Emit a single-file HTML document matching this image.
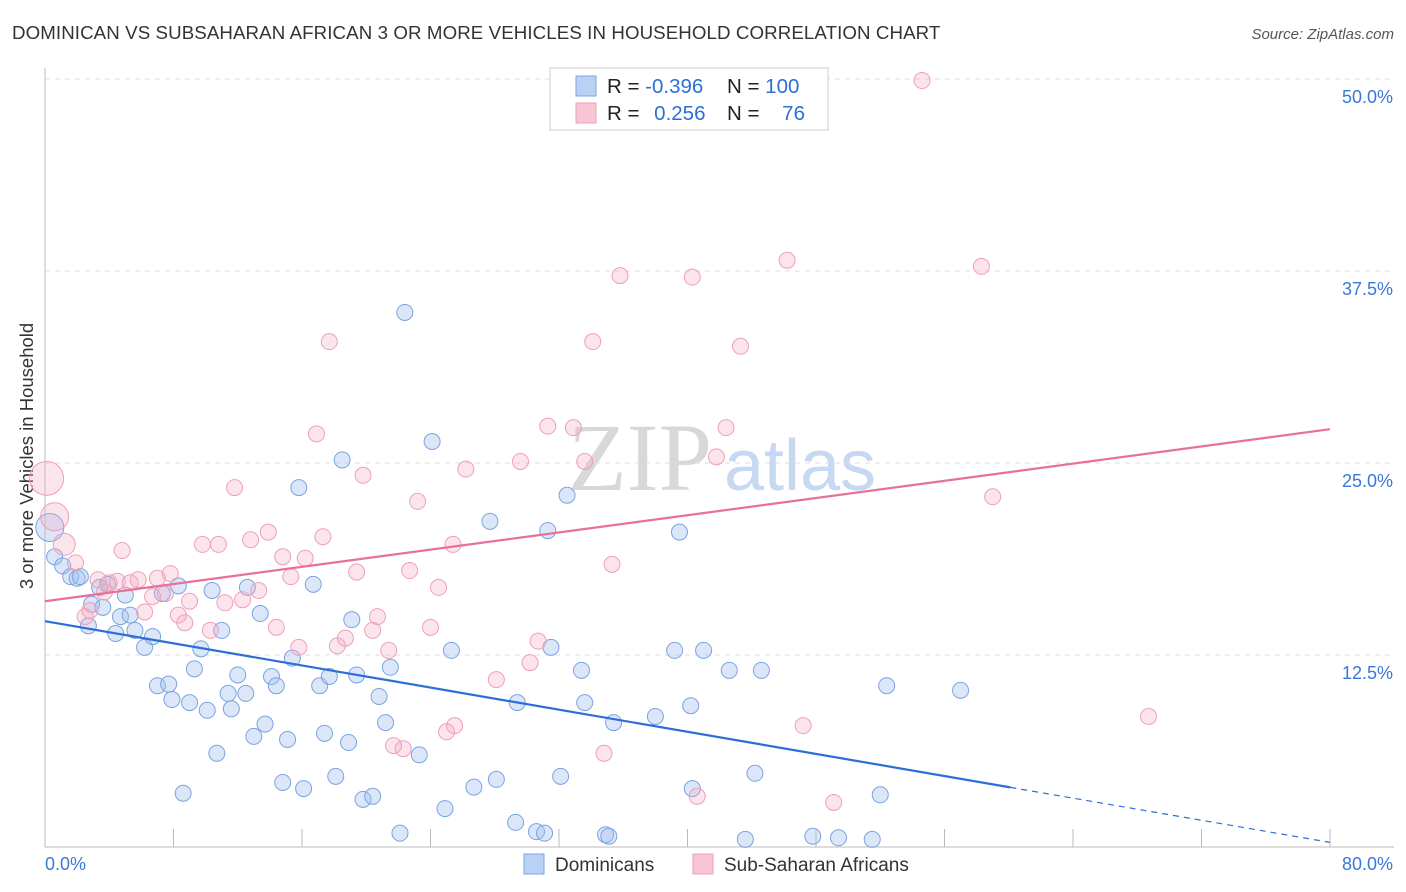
<!DOCTYPE html>
<html><head><meta charset="utf-8">
<style>
body{margin:0;background:#fff;font-family:"Liberation Sans",sans-serif;}
#wrap{position:relative;width:1406px;height:892px;overflow:hidden;}
</style></head>
<body><div id="wrap">
<svg id="chart" width="1406" height="892" xmlns="http://www.w3.org/2000/svg">
<text x="12" y="39" font-size="18.7" fill="#333" letter-spacing="0.1">DOMINICAN VS SUBSAHARAN AFRICAN 3 OR MORE VEHICLES IN HOUSEHOLD CORRELATION CHART</text>
<text x="1394" y="39" font-size="15" fill="#555" font-style="italic" text-anchor="end">Source: ZipAtlas.com</text>
<text transform="translate(33,456) rotate(-90)" font-size="18.5" fill="#333" text-anchor="middle">3 or more Vehicles in Household</text>
<text x="640" y="490" font-size="96" font-family="Liberation Serif,serif" fill="#d8d8d8" text-anchor="middle">ZIP</text>
<text x="800" y="490" font-size="72" fill="#c6d8f2" text-anchor="middle">atlas</text>
<g id="grid"></g><g id="axes"></g><g id="marks"></g><g id="lines"></g>
<g>
<rect x="550" y="68" width="278" height="62" fill="#fff" stroke="#ccc"/>
<rect x="576" y="76" width="20" height="20" fill="#b9d1f5" stroke="#7ba3e0"/>
<rect x="576" y="103" width="20" height="20" fill="#f8c5d5" stroke="#eea0b8"/>
<text x="607" y="93" font-size="20.5" fill="#222">R = <tspan fill="#2b6fd6">-0.396</tspan></text>
<text x="727" y="93" font-size="20.5" fill="#222">N = <tspan fill="#2b6fd6">100</tspan></text>
<text x="607" y="120" font-size="20.5" fill="#222">R = <tspan fill="#2b6fd6" dx="9">0.256</tspan></text>
<text x="727" y="120" font-size="20.5" fill="#222">N = <tspan fill="#2b6fd6" dx="17">76</tspan></text>
</g>
<g>
<rect x="524" y="854" width="20" height="20" fill="#b9d1f5" stroke="#7ba3e0"/>
<text x="555" y="871" font-size="19" fill="#333">Dominicans</text>
<rect x="693" y="854" width="20" height="20" fill="#f8c5d5" stroke="#eea0b8"/>
<text x="724" y="871" font-size="19" fill="#333">Sub-Saharan Africans</text>
</g>
</svg>
<script>
const yTicks=[12.5,25,37.5,50];
const yTickLabels=["12.5%","25.0%","37.5%","50.0%"];
const xTicks=[0,8,16,24,32,40,48,56,64,72,80];
const xEndLabels=["0.0%","80.0%"];
const blueX=[0.3,0.6,1.1,1.6,2.0,2.2,2.7,2.9,3.4,3.6,3.9,4.4,4.7,5.0,5.3,5.6,6.2,6.7,7.0,7.3,7.7,7.9,8.3,8.6,9.0,9.3,9.7,10.1,10.4,10.7,11.0,11.4,11.6,12.0,12.5,12.6,13.0,13.4,13.7,14.1,14.4,14.8,15.1,15.4,15.8,16.1,16.7,17.1,17.4,17.7,18.1,18.5,18.9,19.1,19.4,19.8,20.4,20.8,21.2,21.5,22.1,22.4,23.3,24.1,24.9,25.3,26.7,27.7,28.1,29.4,29.3,30.6,31.1,31.3,31.5,32.1,32.5,33.4,33.6,34.9,35.1,35.4,38.0,39.2,39.5,40.2,40.3,41.0,42.6,43.6,44.2,44.6,47.8,49.4,51.5,52.0,52.4,57.0];
const blueY=[20.8,18.9,18.3,17.6,17.5,17.6,14.4,15.8,16.9,15.6,17.1,13.9,15.0,16.4,15.1,14.1,13.0,13.7,10.5,16.5,10.6,9.6,17.0,3.5,9.4,11.6,12.9,8.9,16.7,6.1,14.1,10.0,9.0,11.2,10.0,16.9,7.2,15.2,8.0,11.1,10.5,4.2,7.0,12.3,23.4,3.8,17.1,10.5,7.4,11.1,4.6,25.2,6.8,14.8,11.2,3.1,3.3,9.8,8.1,11.7,0.9,34.8,6.0,26.4,2.5,12.8,3.9,21.2,4.4,9.4,1.6,1.0,0.9,20.6,13.0,4.6,22.9,11.5,9.4,0.8,0.7,8.1,8.5,12.8,20.5,9.2,3.8,12.8,11.5,0.5,4.8,11.5,0.7,0.6,0.5,3.4,10.5,10.2];
const pinkX=[0.1,0.6,1.2,1.9,2.5,2.8,3.3,3.7,4.0,4.5,4.8,5.3,5.8,6.2,6.7,7.0,7.5,7.8,8.3,8.7,9.0,9.8,10.3,10.8,11.2,11.8,12.3,12.8,13.3,13.9,14.4,14.8,15.3,15.8,16.2,16.9,17.3,17.7,18.2,18.7,19.4,19.8,20.4,20.7,21.4,21.7,22.3,22.7,23.2,24.0,24.5,25.0,25.4,25.5,26.2,28.1,29.6,30.2,30.7,31.3,32.9,33.6,34.1,34.8,35.3,35.8,40.3,40.6,41.8,42.4,43.3,46.2,47.2,49.1,54.6,58.3,59.0,68.7];
const pinkY=[24.0,21.5,19.7,18.5,15.0,15.4,17.4,16.6,17.2,17.3,19.3,17.2,17.4,15.3,16.3,17.5,16.5,17.8,15.1,14.6,16.0,19.7,14.1,19.7,15.9,23.4,16.1,20.0,16.7,20.5,14.3,18.9,17.6,13.0,18.8,26.9,20.2,32.9,13.1,13.6,17.9,24.2,14.1,15.0,12.8,6.6,6.4,18.0,22.5,14.3,16.9,7.5,19.7,7.9,24.6,10.9,25.1,12.0,13.4,27.4,27.3,25.1,32.9,6.1,18.4,37.2,37.1,3.3,25.4,27.3,32.6,38.2,7.9,2.9,49.9,37.8,22.8,8.5];
const blueBig=[14];
const pinkBig=[17,14,11];
const blueTrend=[14.7,0.3], blueSolidEnd=60.1;
const pinkTrend=[16.0,27.2];

const NS="http://www.w3.org/2000/svg";
const X=v=>45+v/80*1285, Y=v=>847-v/50*768;
function mk(t,a,p){const e=document.createElementNS(NS,t);for(const k in a)e.setAttribute(k,a[k]);document.getElementById(p).appendChild(e);return e;}
yTicks.forEach((t,i)=>{
 const g=mk('line',{x1:45,x2:1394,y1:Y(t),y2:Y(t),stroke:'#ddd','stroke-dasharray':'5,5'},'grid');
 
 
 const l=mk('text',{x:1393,y:Y(t)+24,'font-size':18,fill:'#3a78d8','text-anchor':'end'},'axes');
 l.textContent=yTickLabels[i];
 
 
});
const ax=mk('line',{x1:45,x2:1394,y1:847,y2:847,stroke:'#bbb'},'axes');


const ay=mk('line',{x1:45,x2:45,y1:68,y2:847,stroke:'#bbb'},'axes');


xTicks.forEach(t=>{
 const k=mk('line',{x1:X(t),x2:X(t),y1:829,y2:847,stroke:'#bbb'},'axes');
 
 
});
[[0,'start',45],[80,'end',1393]].forEach((d,i)=>{
 const l=mk('text',{x:d[2],y:870,'font-size':18,fill:'#3a78d8','text-anchor':d[1]},'axes');
 l.textContent=xEndLabels[i];
 
 
});
function pts(xs,ys,big,fill,stroke,name){
 xs.forEach((x,i)=>{
  const c=mk('circle',{cx:X(x),cy:Y(ys[i]),r:big[i]||8,fill:fill,stroke:stroke,'stroke-width':1},'marks');
  
  
 });
}
pts(blueX,blueY,blueBig,'rgba(160,192,240,0.38)','#7ba3e0','dominican-point');
pts(pinkX,pinkY,pinkBig,'rgba(246,170,196,0.32)','#eea0b8','subsaharan-point');
const by=x=>blueTrend[0]+(blueTrend[1]-blueTrend[0])*x/80;
const b1=mk('line',{x1:X(0),y1:Y(by(0)),x2:X(blueSolidEnd),y2:Y(by(blueSolidEnd)),stroke:'#2b6fd6','stroke-width':2.2},'lines');


const b2=mk('line',{x1:X(blueSolidEnd),y1:Y(by(blueSolidEnd)),x2:X(80),y2:Y(by(80)),stroke:'#2b6fd6','stroke-width':1.2,'stroke-dasharray':'6,5'},'lines');


const p1=mk('line',{x1:X(0),y1:Y(pinkTrend[0]),x2:X(80),y2:Y(pinkTrend[1]),stroke:'#e8709a','stroke-width':2.2},'lines');


</script>
</div></body></html>
